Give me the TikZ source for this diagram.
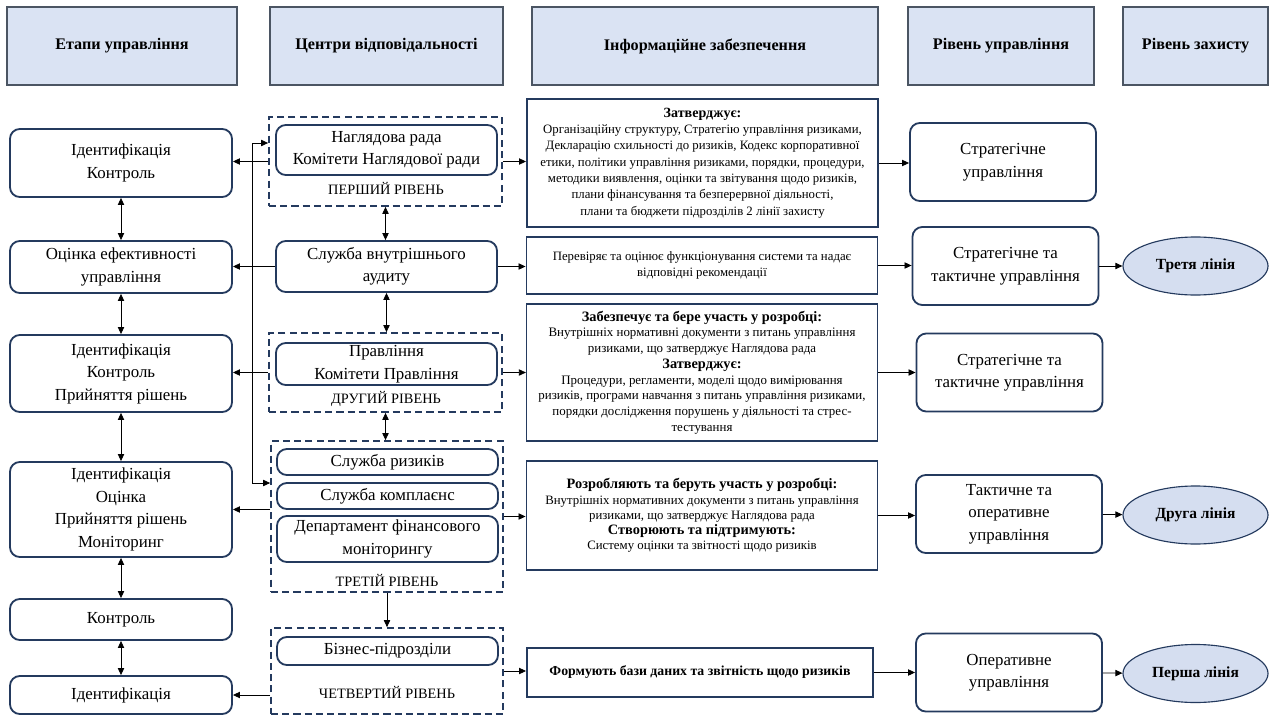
\documentclass[tikz,border=0pt]{standalone}
\usepackage{fontspec}
\setmainfont{Liberation Serif}
\usetikzlibrary{calc,arrows.meta,shapes.geometric}

\definecolor{navy}{HTML}{243A5E}
\definecolor{hdrfill}{HTML}{DAE3F3}
\definecolor{hdrline}{HTML}{4B5563}
\definecolor{linefill}{HTML}{D5DEF0}

\tikzset{
  hdr/.style={draw=hdrline, fill=hdrfill, line width=0.8pt, minimum height=1.95cm,
    font=\bfseries\fontsize{11.5}{14}\selectfont, inner sep=0pt},
  stage/.style={draw=navy, line width=1.3pt, rounded corners=7pt, align=center,
    minimum width=5.55cm, inner sep=1pt, font=\fontsize{12}{16}\selectfont},
  unit/.style={stage, minimum width=5.525cm},
  group/.style={draw=navy, line width=1.2pt, dashed, dash pattern=on 5pt off 3pt},
  grouplabel/.style={font=\fontsize{10.2}{12}\selectfont},
  info/.style={draw=navy, line width=1.3pt, align=center, minimum width=8.775cm,
    inner sep=1pt, font=\fontsize{9.1}{10.8}\selectfont},
  level/.style={stage, minimum width=4.65cm, minimum height=1.95cm},
  defence/.style={ellipse, draw=navy, fill=linefill, line width=0.8pt,
    minimum width=3.625cm, minimum height=1.45cm, inner sep=0pt,
    font=\bfseries\fontsize{11}{13}\selectfont},
  arr/.style={-{Triangle[length=5pt,width=4.5pt]}, line width=0.6pt},
  dbl/.style={{Triangle[length=5pt,width=4.5pt]}-{Triangle[length=5pt,width=4.5pt]}, line width=0.6pt}
}

\begin{document}
\begin{tikzpicture}[x=0.025cm, y=-0.025cm]

      \useasboundingbox (0,0) rectangle (1269,716);

      % Column headers
      \node[hdr, minimum width=5.75cm]  (h1) at (122,46)    {Етапи управління};
      \node[hdr, minimum width=5.825cm] (h2) at (386.5,46)  {Центри відповідальності};
      \node[hdr, minimum width=8.65cm]  (h3) at (705,46)    {Інформаційне забезпечення};
      \node[hdr, minimum width=4.65cm]  (h4) at (1001,46)   {Рівень управління};
      \node[hdr, minimum width=3.625cm] (h5) at (1195.5,46) {Рівень захисту};

      % Stages of management
      \node[stage, minimum height=1.7cm]   (l1) at (121,163)   {Ідентифікація\\Контроль};
      \node[stage, minimum height=1.3cm]   (l2) at (121,267)   {Оцінка ефективності\\управління};
      \node[stage, minimum height=1.925cm] (l3) at (121,373.5) {Ідентифікація\\Контроль\\Прийняття рішень};
      \node[stage, minimum height=2.375cm] (l4) at (121,509.5) {Ідентифікація\\Оцінка\\Прийняття рішень\\Моніторинг};
      \node[stage, minimum height=1.025cm] (l5) at (121,619.5) {Контроль};
      \node[stage, minimum height=0.95cm]  (l6) at (121,695)   {Ідентифікація};

      % Responsibility centres
      \node[group, minimum width=5.825cm, minimum height=2.225cm] (g1) at (385.5,161.5) {};
      \node[group, minimum width=5.825cm, minimum height=1.975cm] (g2) at (385.5,372.5) {};
      \node[group, minimum width=5.8cm,   minimum height=3.775cm] (g3) at (387,516.5) {};
      \node[group, minimum width=5.8cm,   minimum height=2.15cm]  (g4) at (387,671) {};

      \node[unit, minimum height=1.25cm]  (c1) at (386.5,150)   {Наглядова рада\\Комітети Наглядової ради};
      \node[unit, minimum height=1.275cm] (c2) at (386.5,266.5) {Служба внутрішнього\\аудиту};
      \node[unit, minimum height=1.05cm]  (c3) at (386.5,364)   {Правління\\Комітети Правління};
      \node[unit, minimum height=0.65cm]  (c4) at (387.5,462)   {Служба ризиків};
      \node[unit, minimum height=0.65cm]  (c5) at (387.5,496)   {Служба комплаєнс};
      \node[unit, minimum height=1.15cm]  (c6) at (387.5,539)   {Департамент фінансового\\моніторингу};
      \node[unit, minimum height=0.7cm]   (c7) at (387.5,651)   {Бізнес-підрозділи};

      \node[grouplabel] (t1) at (386,188) {ПЕРШИЙ РІВЕНЬ};
      \node[grouplabel] (t2) at (386,399) {ДРУГИЙ РІВЕНЬ};
      \node[grouplabel] (t3) at (387,580) {ТРЕТІЙ РІВЕНЬ};
      \node[grouplabel] (t4) at (387,692) {ЧЕТВЕРТИЙ РІВЕНЬ};

      % Information support
      \node[info, minimum height=3.2cm, font=\fontsize{9.1}{11.6}\selectfont] (iA) at (702.5,163)
        {\textbf{\fontsize{10}{12.5}\selectfont Затверджує:}\\
         Організаційну структуру, Стратегію управління ризиками,\\
         Декларацію схильності до ризиків, Кодекс корпоративної\\
         етики, політики управління ризиками, порядки, процедури,\\
         методики виявлення, оцінки та звітування щодо ризиків,\\
         плани фінансування та безперервної діяльності,\\
         плани та бюджети підрозділів 2 лінії захисту};
      \node[info, minimum height=1.425cm] (iB) at (702,265.5)
        {Перевіряє та оцінює функціонування системи та надає\\відповідні рекомендації};
      \node[info, minimum height=3.425cm, line width=0.8pt, font=\fontsize{9.2}{11.2}\selectfont] (iC) at (702,372.5)
        {\textbf{\fontsize{10.2}{11.5}\selectfont Забезпечує та бере участь у розробці:}\\
         Внутрішніх нормативні документи з питань управління\\
         ризиками, що затверджує Наглядова рада\\
         \textbf{\fontsize{10.2}{11.5}\selectfont Затверджує:}\\
         Процедури, регламенти, моделі щодо вимірювання\\
         ризиків, програми навчання з питань управління ризиками,\\
         порядки дослідження порушень у діяльності та стрес-\\
         тестування};
      \node[info, minimum height=2.725cm] (iD) at (702,515.5)
        {\textbf{\fontsize{10.2}{11.5}\selectfont Розробляють та беруть участь у розробці:}\\
         Внутрішніх нормативних документи з питань управління\\
         ризиками, що затверджує Наглядова рада\\
         \textbf{\fontsize{10.2}{11.5}\selectfont Створюють та підтримують:}\\
         Систему оцінки та звітності щодо ризиків};
      \node[info, minimum width=8.65cm, minimum height=1.225cm] (iE) at (700,672.5)
        {\textbf{\fontsize{9.8}{11}\selectfont Формують бази даних та звітність щодо ризиків}};

      % Management level
      \node[level] (r1) at (1003,162)    {Стратегічне\\управління};
      \node[level] (r2) at (1005.5,266)  {Стратегічне та\\тактичне управління};
      \node[level] (r3) at (1009.5,372.5){Стратегічне та\\тактичне управління};
      \node[level] (r4) at (1009,514)    {Тактичне та\\оперативне\\управління};
      \node[level] (r5) at (1009,672.5)  {Оперативне\\управління};

      % Lines of defence
      \node[defence] (e1) at (1195.5,266)   {Третя лінія};
      \node[defence] (e2) at (1195.5,515)   {Друга лінія};
      \node[defence] (e3) at (1195.5,673.5) {Перша лінія};

      % links between stages
      \foreach \a/\b in {l1/l2, l2/l3, l3/l4, l4/l5, l5/l6}{
        \draw[dbl] (\a) -- (\b);
      }

      % links between centres
      \draw[dbl] (g1.south) -- (g1.south |- c2.north);
      \draw[dbl] (c2.south) -- (c2.south |- g2.north);
      \draw[dbl] (g2.south) -- (g2.south |- g3.north);
      \draw[arr] (g3.south) -- (g3.south |- g4.north);

      % centres back to stages
      \draw[arr] (g1.west) -- (g1.west -| l1.east);
      \draw[arr] (c2.west) -- (c2.west -| l2.east);
      \draw[arr] (g2.west) -- (g2.west -| l3.east);
      \draw[arr] (l4.east -| g3.west) -- (l4.east);
      \draw[arr] (l6.east -| g4.west) -- (l6.east);

      % bracket feeding first and third level
      \coordinate (bt) at (252,143);
      \coordinate (bb) at (252,483);
      \draw[arr] (bb) -- (bt) -- (bt -| g1.west);
      \draw[arr] (bb) -- (bb -| g3.west);

      % centres to information and on to levels
      \foreach \g/\i/\r in {g1/iA/r1, c2/iB/r2, g2/iC/r3, g3/iD/r4, g4/iE/r5}{
        \draw[arr] (\g.east) -- (\g.east -| \i.west);
        \draw[arr] (\i.east) -- (\i.east -| \r.west);
      }

      \foreach \r/\e in {r2/e1, r4/e2, r5/e3}{
        \draw[arr] (\r) -- (\e);
      }

    \end{tikzpicture}
\end{document}
